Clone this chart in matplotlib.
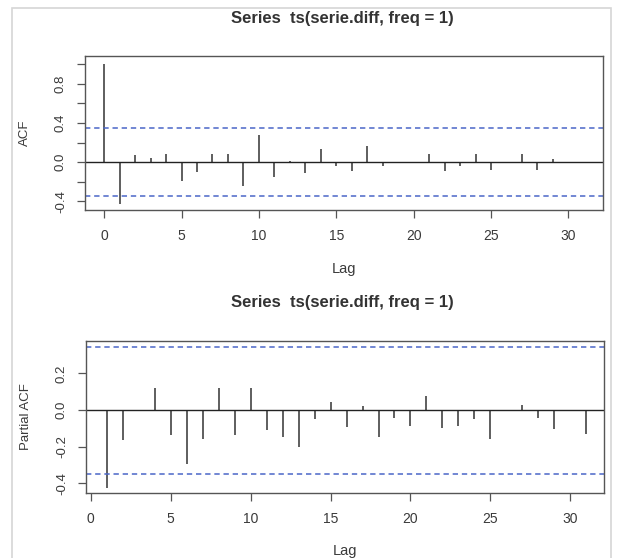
import matplotlib
matplotlib.use("Agg")
import matplotlib.pyplot as plt
from matplotlib.patches import Rectangle
import numpy as np

# ---- data ----
acf_lags = list(range(0, 32))
acf_vals = [1.00, -0.43, 0.07, 0.045, 0.085, -0.195, -0.10, 0.08, 0.085, -0.245,
            0.28, -0.155, 0.01, -0.11, 0.13, -0.04, -0.095, 0.165, -0.035, 0.005,
            0.0, 0.08, -0.095, -0.035, 0.085, -0.08, 0.0, 0.08, -0.085, 0.035,
            -0.005, 0.005]
pacf_lags = list(range(1, 32))
pacf_vals = [-0.424, -0.164, 0.0, 0.118, -0.136, -0.296, -0.158, 0.118, -0.133, 0.122,
             -0.109, -0.145, -0.20, -0.049, 0.045, -0.09, 0.02, -0.147, -0.042, -0.085,
             0.075, -0.097, -0.085, -0.05, -0.16, -0.005, 0.03, -0.045, -0.105, 0.0,
             -0.13]
conf = 0.346
title_text = "Series  ts(serie.diff, freq = 1)"
x_ticks = [0, 5, 10, 15, 20, 25, 30]
acf_yticks = [-0.4, -0.2, 0.0, 0.2, 0.4, 0.6, 0.8, 1.0]
acf_ylabels = ["-0.4", "", "0.0", "", "0.4", "", "0.8", ""]
pacf_yticks = [-0.4, -0.2, 0.0, 0.2]
pacf_ylabels = ["-0.4", "-0.2", "0.0", "0.2"]

W, H = 618, 558
plt.rcParams['font.family'] = ['Liberation Sans', 'DejaVu Sans']
fig = plt.figure(figsize=(W / 100, H / 100), dpi=100)
fig.patch.set_facecolor('white')

txt_col = '#3a3a3a'
box_col = '#555555'
ci_col = '#4a66c8'


def px_axes(l, t, r, b):
    return fig.add_axes([l / W, 1 - b / H, (r - l) / W, (b - t) / H])


def style(ax, yticks, ylabels, ylabel):
    for s in ax.spines.values():
        s.set_color(box_col)
        s.set_linewidth(1.0)
    ax.set_xticks(x_ticks)
    ax.set_xticklabels([str(t) for t in x_ticks], fontsize=10, color=txt_col)
    ax.set_yticks(yticks)
    ax.set_yticklabels(ylabels, fontsize=9.5, color=txt_col, rotation=90, va='center')
    ax.tick_params(axis='both', direction='out', length=6, width=0.9, color=box_col)
    ax.tick_params(axis='x', pad=8)
    ax.tick_params(axis='y', pad=7)
    ax.set_ylabel(ylabel, fontsize=9.5, color=txt_col, labelpad=17)
    ax.set_xlabel("Lag", fontsize=10.5, color=txt_col, labelpad=13)


# ---- ACF ----
ax1 = px_axes(85, 56, 603, 210)
ax1.vlines(acf_lags, 0, acf_vals, color='#333333', linewidth=1.1)
ax1.axhline(0, color='#222222', linewidth=1.0)
ax1.axhline(conf, color=ci_col, linewidth=1.1, dashes=(3.5, 2.5))
ax1.axhline(-conf, color=ci_col, linewidth=1.1, dashes=(3.5, 2.5))
ax1.set_xlim(-1.24, 32.24)
ax1.set_ylim(-0.49, 1.085)
style(ax1, acf_yticks, acf_ylabels, "ACF")

# ---- PACF ----
ax2 = px_axes(86, 341, 604, 493)
ax2.vlines(pacf_lags, 0, pacf_vals, color='#333333', linewidth=1.1)
ax2.axhline(0, color='#222222', linewidth=1.0)
ax2.axhline(conf, color=ci_col, linewidth=1.1, dashes=(3.5, 2.5))
ax2.axhline(-conf, color=ci_col, linewidth=1.1, dashes=(3.5, 2.5))
ax2.set_xlim(-0.29, 32.1)
ax2.set_ylim(-0.452, 0.377)
style(ax2, pacf_yticks, pacf_ylabels, "Partial ACF")

# titles
fig.text(342 / W, 1 - 18.5 / H, title_text, ha='center', va='center',
         fontsize=12, fontweight='bold', color='#333333')
fig.text(342 / W, 1 - 302 / H, title_text, ha='center', va='center',
         fontsize=12, fontweight='bold', color='#333333')

# scan border
fig.patches.append(Rectangle((12 / W, -0.01), (611 - 12) / W, 1 - 8 / H + 0.01,
                             transform=fig.transFigure, fill=False,
                             edgecolor='#d6d6d6', linewidth=1.2))

fig.savefig("out.png", dpi=100)
